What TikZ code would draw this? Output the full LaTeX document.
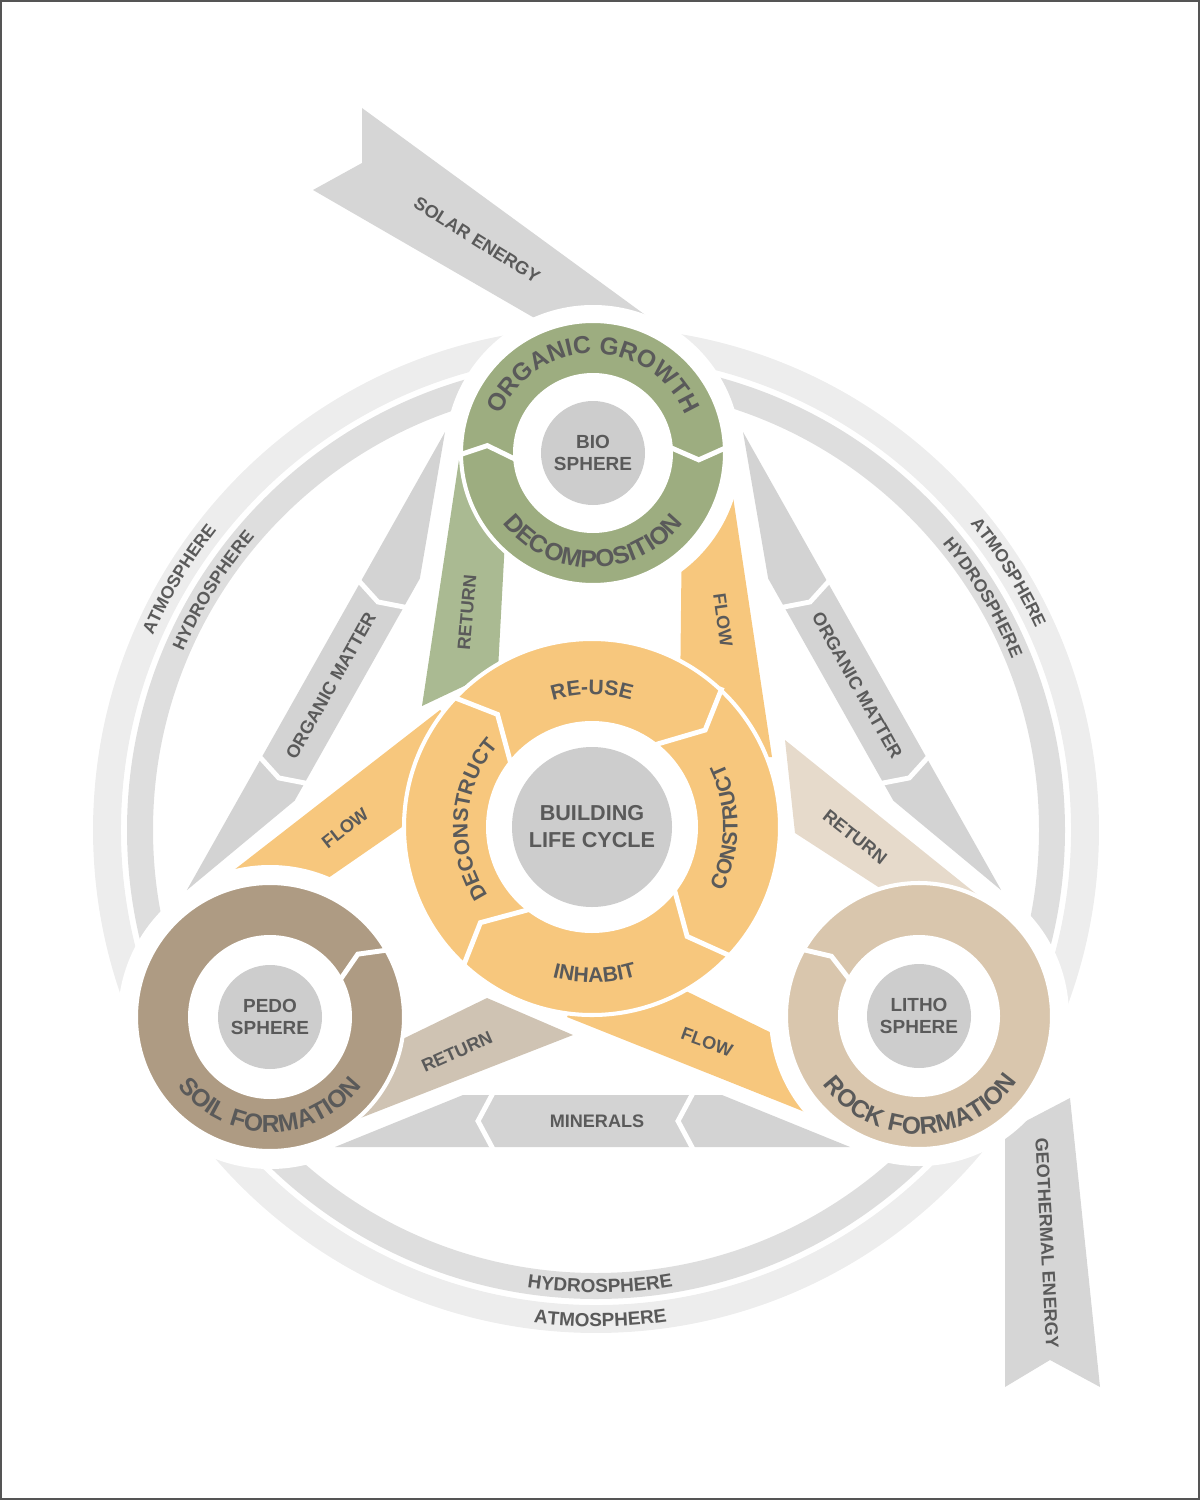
\documentclass[tikz,border=0pt]{standalone}
\usepackage{fontspec}
\setmainfont{Liberation Sans}
\usetikzlibrary{calc,decorations.text}

\definecolor{txt}{HTML}{5A5A5A}
\definecolor{framegray}{HTML}{555555}
\definecolor{atmogray}{HTML}{EDEDED}
\definecolor{hydrogray}{HTML}{DEDEDE}
\definecolor{bandgray}{HTML}{D3D3D3}
\definecolor{energygray}{HTML}{D6D6D6}
\definecolor{coregray}{HTML}{CDCDCD}
\definecolor{cycorange}{HTML}{F7C77D}
\definecolor{biogreen}{HTML}{9DAD80}
\definecolor{bioreturn}{HTML}{AABA92}
\definecolor{pedobrown}{HTML}{AE9B83}
\definecolor{pedoreturn}{HTML}{CFC3B3}
\definecolor{lithotan}{HTML}{D9C6AD}
\definecolor{lithoreturn}{HTML}{E6DACB}

\newcommand{\ringfont}{\color{txt}\bfseries\fontsize{14}{14}\selectfont}
\newcommand{\cyclefont}{\color{txt}\bfseries\fontsize{12}{12}\selectfont}
\newcommand{\shellfont}{\color{txt}\bfseries\fontsize{10}{10}\selectfont}
\newcommand{\lowshellfont}{\color{txt}\bfseries\fontsize{10.8}{10.8}\selectfont}

\begin{document}
\begin{tikzpicture}[x=0.02cm, y=0.02cm,
  lbl/.style={text=txt, font=\bfseries\fontsize{10.3}{12}\selectfont, inner sep=0pt},
  core/.style={fill=coregray},
  hole/.style={fill=white},
  halo/.style={fill=white},
  ring/.style={fill=#1, draw=white, line width=2.3pt},
  divider/.style={draw=white, line width=2.8pt},
  arctext/.style={decorate, decoration={text along path, text align=center, text={#1}}}
]
\useasboundingbox (0,0) rectangle (1200,-1500);
\draw[framegray, line width=1.2pt] (1,-1) rectangle (1199,-1499);

% ---------- Centres ----------
\coordinate (O) at (596,-830);
\coordinate (C) at (592,-827);
\coordinate (G) at (593,-453);
\coordinate (P) at (270,-1017);
\coordinate (L) at (919,-1016);

% ---------- Atmosphere and hydrosphere ----------
\draw[atmogray, line width=15.9pt] (O) circle (489);
\draw[hydrogray, line width=14.8pt] (O) circle (456);

% ---------- Energy inputs ----------
\fill[energygray] (362,-108) -- (659,-325) -- (550,-327) -- (313,-190) -- (362,-163) -- cycle;
\fill[energygray] (1005,-1132) -- (1070,-1098) -- (1100,-1387) -- (1050,-1360) -- (1005,-1387) -- cycle;

% ---------- Flows out of the building cycle ----------
\fill[cycorange] (682,-520) -- (729,-470) -- (772,-757) -- (720,-760) -- (680,-700) -- cycle;
\fill[cycorange] (225,-877) -- (440,-710) -- (500,-760) -- (430,-827) -- (402,-827) -- (305,-894) -- cycle;
\fill[cycorange] (567,-1017) -- (600,-950) -- (690,-993) -- (790,-1042) -- (830,-1122) -- cycle;

% ---------- White halos round the spheres ----------
\fill[halo] (G) circle (148);
\fill[halo] (P) circle (152);
\fill[halo] (L) circle (150);

% ---------- Organic matter and minerals ----------
\begin{scope}[shift={(445,-432)}, rotate=-119.4]
  \fill[bandgray] (0,0) -- (526,0) -- (395,50) -- (140,50) -- cycle;
  \draw[divider] (172,-2) -- (181,25) -- (172,52);
  \draw[divider] (374,-2) -- (383,25) -- (374,52);
  \node[lbl, rotate=60.6] (omleft) at (277,25) {ORGANIC MATTER};
\end{scope}
\begin{scope}[shift={(743,-432)}, rotate=-60.6, yscale=-1]
  \fill[bandgray] (0,0) -- (526,0) -- (395,50) -- (140,50) -- cycle;
  \draw[divider] (172,-2) -- (181,25) -- (172,52);
  \draw[divider] (374,-2) -- (383,25) -- (374,52);
  \node[lbl, rotate=-60.6] (omright) at (277,25) {ORGANIC MATTER};
\end{scope}
\fill[bandgray] (335,-1147) -- (850,-1147) -- (722,-1095) -- (463,-1095) -- cycle;
\draw[divider] (493,-1093) -- (478,-1121) -- (493,-1149);
\draw[divider] (693,-1093) -- (678,-1121) -- (693,-1149);
\node[lbl] (minerals) at (597,-1121) {MINERALS};

% ---------- Returns ----------
\fill[bioreturn] (462,-440) -- (540,-470) -- (505,-540) -- (498,-670) -- (422,-706) -- cycle;
\fill[lithoreturn] (785,-740) -- (990,-905) -- (903,-903) -- (795,-833) -- cycle;
\fill[pedoreturn] (573,-1035) -- (487,-998) -- (380,-1050) -- (340,-1126) -- cycle;

% ---------- Spheres ----------
\path[ring=biogreen] (G) circle (132);
\fill[hole] (G) circle (80);
\fill[core] (G) circle (52);
\draw[divider] ($(G)+(181:135)$) -- ($(G)+(176:106)$) -- ($(G)+(185:77)$);
\draw[divider] ($(G)+(2.6:135)$) -- ($(G)+(-3.7:106)$) -- ($(G)+(4.3:77)$);

\path[ring=pedobrown] (P) circle (134);
\fill[hole] (P) circle (82);
\fill[core] (P) circle (52);
\draw[divider] ($(P)+(29.4:137)$) -- ($(P)+(35.6:108)$) -- ($(P)+(27.8:79)$);

\path[ring=lithotan] (L) circle (133);
\fill[hole] (L) circle (81);
\fill[core] (L) circle (52);
\draw[divider] ($(L)+(150.5:136)$) -- ($(L)+(145.7:106)$) -- ($(L)+(152.5:78)$);

% ---------- Building life cycle ----------
\path[ring=cycorange] (C) circle (188);
\fill[hole] (C) circle (106);
\fill[core] (C) circle (80);
\draw[divider] ($(C)+(137:191)$) -- ($(C)+(130:147)$) -- ($(C)+(142:103)$);
\draw[divider] ($(C)+(47:191)$) -- ($(C)+(40.6:149)$) -- ($(C)+(52.8:103)$);
\draw[divider] ($(C)+(-42.8:191)$) -- ($(C)+(-49:145)$) -- ($(C)+(-37:103)$);
\draw[divider] ($(C)+(227.4:191)$) -- ($(C)+(220.6:147)$) -- ($(C)+(233:103)$);

% ---------- Centre labels ----------
\node[lbl, align=center, font=\bfseries\fontsize{12.3}{15.4}\selectfont] (lifecycle) at (C) {BUILDING\\LIFE CYCLE};
\node[lbl, align=center, font=\bfseries\fontsize{10.8}{12.2}\selectfont] (biosphere) at (G) {BIO\\SPHERE};
\node[lbl, align=center, font=\bfseries\fontsize{10.8}{12.2}\selectfont] (pedosphere) at (P) {PEDO\\SPHERE};
\node[lbl, align=center, font=\bfseries\fontsize{10.8}{12.2}\selectfont] (lithosphere) at (L) {LITHO\\SPHERE};

% ---------- Ring labels ----------
\path[arctext={|\ringfont|ORGANIC GROWTH}] ($(G)+(180:99.5)$) arc[start angle=180, end angle=0, radius=99.5];
\path[arctext={|\ringfont|DECOMPOSITION}] ($(G)+(180:114.5)$) arc[start angle=180, end angle=360, radius=114.5];
\path[arctext={|\ringfont|SOIL FORMATION}] ($(P)+(180:115)$) arc[start angle=180, end angle=360, radius=115];
\path[arctext={|\ringfont|ROCK FORMATION}] ($(L)+(181:118)$) arc[start angle=181, end angle=361, radius=118];
\path[arctext={|\cyclefont|RE-USE}] ($(C)+(135:132.5)$) arc[start angle=135, end angle=45, radius=132.5];
\path[arctext={|\cyclefont|DECONSTRUCT}] ($(C)+(236:124.5)$) arc[start angle=236, end angle=116, radius=124.5];
\path[arctext={|\cyclefont|CONSTRUCT}] ($(C)+(-60:145.5)$) arc[start angle=-60, end angle=60, radius=145.5];
\path[arctext={|\cyclefont|INHABIT}] ($(C)+(226:155.5)$) arc[start angle=226, end angle=316, radius=155.5];

% ---------- Atmosphere and hydrosphere labels ----------
\path[arctext={|\shellfont|ATMOSPHERE}] ($(O)+(189:483.7)$) arc[start angle=189, end angle=109, radius=483.7];
\path[arctext={|\shellfont|HYDROSPHERE}] ($(O)+(188:449.7)$) arc[start angle=188, end angle=108, radius=449.7];
\path[arctext={|\shellfont|ATMOSPHERE}] ($(O)+(72:483.7)$) arc[start angle=72, end angle=-8, radius=483.7];
\path[arctext={|\shellfont|HYDROSPHERE}] ($(O)+(71:449.7)$) arc[start angle=71, end angle=-9, radius=449.7];
\path[arctext={|\lowshellfont|HYDROSPHERE}] ($(O)+(230:462.8)$) arc[start angle=230, end angle=311, radius=462.8];
\path[arctext={|\lowshellfont|ATMOSPHERE}] ($(O)+(230:496.8)$) arc[start angle=230, end angle=311, radius=496.8];

% ---------- Band labels ----------
\node[lbl, rotate=-32] (solar) at (477,-240) {SOLAR ENERGY};
\node[lbl, rotate=-87] (geothermal) at (1047,-1243) {GEOTHERMAL ENERGY};
\node[lbl, rotate=-82] (flowbio) at (723,-620) {FLOW};
\node[lbl, rotate=38] (flowpedo) at (345,-828) {FLOW};
\node[lbl, rotate=-20] (flowlitho) at (707,-1042) {FLOW};
\node[lbl, rotate=85] (returnbio) at (467,-612) {RETURN};
\node[lbl, rotate=-38] (returnlitho) at (855,-837) {RETURN};
\node[lbl, rotate=24] (returnpedo) at (457,-1052) {RETURN};
\end{tikzpicture}
\end{document}
